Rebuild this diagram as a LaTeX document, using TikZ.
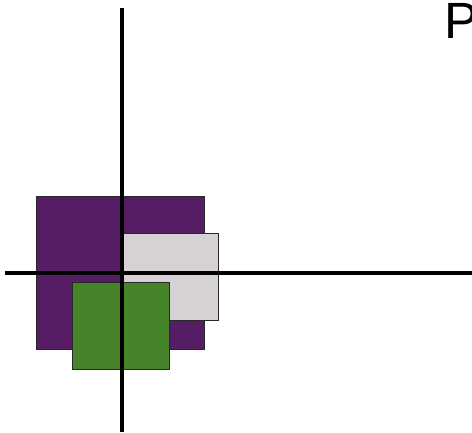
\documentclass[tikz,border=0pt]{standalone}
\usepackage{fontspec}
\setmainfont{Liberation Sans}
\usetikzlibrary{positioning}
\definecolor{plum}{RGB}{86,28,100}
\definecolor{mist}{RGB}{214,209,212}
\definecolor{leaf}{RGB}{70,132,44}
\definecolor{edge}{RGB}{40,40,40}

\begin{document}
\begin{tikzpicture}[x=1pt, y=1pt]
  \useasboundingbox (0,0) rectangle (472,432);
  \clip (0,0) rectangle (472,432);
  % boxes
  \draw[fill=plum, draw=edge, line width=0.8pt] (36,83) rectangle (204,236);
  \draw[fill=mist, draw=edge, line width=0.8pt] (122,112) rectangle (218,199);
  \draw[fill=leaf, draw=edge, line width=0.8pt] (72,63) rectangle (169,150);
  % axes
  \draw[line width=4.5pt] (122,0) -- (122,424);
  \draw[line width=4.5pt] (5,159) -- (472,159);
  \node[anchor=north west, inner sep=0pt, font=\fontsize{51}{51}\selectfont] (label) at (444,429) {P};
\end{tikzpicture}
\end{document}
